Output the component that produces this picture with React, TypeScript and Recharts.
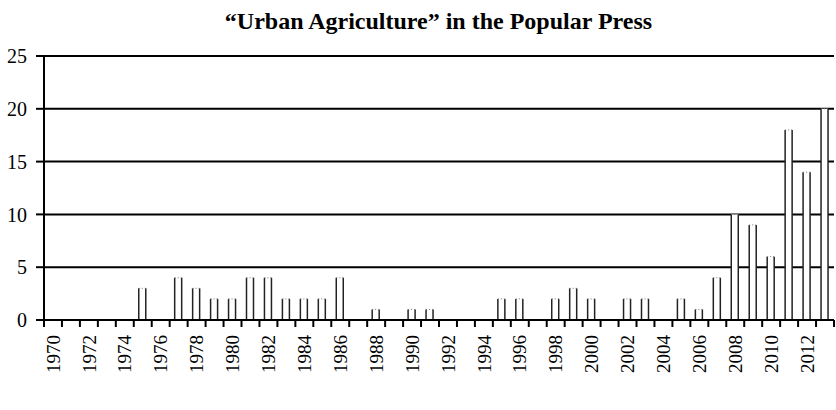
import { BarChart, Bar, XAxis, YAxis, CartesianGrid } from 'recharts';

const years = [
  1970, 1971, 1972, 1973, 1974, 1975, 1976, 1977, 1978, 1979, 1980,
  1981, 1982, 1983, 1984, 1985, 1986, 1987, 1988, 1989, 1990, 1991,
  1992, 1993, 1994, 1995, 1996, 1997, 1998, 1999, 2000, 2001, 2002,
  2003, 2004, 2005, 2006, 2007, 2008, 2009, 2010, 2011, 2012, 2013,
];

const articles = [
  0, 0, 0, 0, 0, 3, 0, 4, 3, 2, 2,
  4, 4, 2, 2, 2, 4, 0, 1, 0, 1, 1,
  0, 0, 0, 2, 2, 0, 2, 3, 2, 0, 2,
  2, 0, 2, 1, 4, 10, 9, 6, 18, 14, 20,
];

const yTicks = [0, 5, 10, 15, 20, 25];
const labelYears = years.filter((y) => y % 2 === 0);
const boundaries = [...years.map((y) => y - 0.5), 2013.5];

const data = years.map((year, i) => ({ year, count: articles[i] }));

const serif = '"Liberation Serif", "Times New Roman", serif';

const OutlinedBar = (props: any) => {
  const { x, y, width, height } = props;
  if (!height || height <= 0) return null;
  return (
    <g>
      <rect x={x} y={y} width={width} height={height} fill="#fff" />
      <line x1={x} x2={x} y1={y} y2={y + height} stroke="#222" strokeWidth={1.5} />
      <line x1={x + width} x2={x + width} y1={y} y2={y + height} stroke="#222" strokeWidth={1.5} />
      <line x1={x} x2={x + width} y1={y} y2={y} stroke="#777" strokeWidth={1} strokeDasharray="1 2" />
    </g>
  );
};

const XTick = (props: any) => {
  const { x, y, payload } = props;
  const v = payload.value;
  if (v % 1 !== 0) {
    return <line x1={x} x2={x} y1={y} y2={y + 7} stroke="#000" strokeWidth={2} />;
  }
  const ty = y + 15;
  return (
    <text
      x={x}
      y={ty}
      transform={`rotate(-90, ${x}, ${ty})`}
      textAnchor="end"
      dy="0.35em"
      style={{ fontFamily: serif, fontSize: 19 }}
      fill="#000"
    >
      {v}
    </text>
  );
};

export default function App() {
  return (
    <div style={{ position: 'absolute', left: 0, top: 0, width: 836, height: 410, background: '#fff' }}>
      <div
        style={{
          position: 'absolute',
          left: 43,
          top: 9,
          width: 791,
          textAlign: 'center',
          fontFamily: serif,
          fontWeight: 'bold',
          fontSize: 24,
          lineHeight: '24px',
          color: '#000',
        }}
      >
        “Urban Agriculture” in the Popular Press
      </div>
      <BarChart
        width={836}
        height={410}
        data={data}
        margin={{ top: 56, right: 2, bottom: 0, left: 0 }}
        style={{ fontFamily: serif }}
      >
        <CartesianGrid vertical={false} stroke="#000" strokeWidth={2} />
        <XAxis
          dataKey="year"
          type="number"
          domain={[1969.5, 2013.5]}
          ticks={[...boundaries, ...labelYears]}
          interval={0}
          tick={<XTick />}
          tickLine={false}
          tickSize={0}
          tickMargin={0}
          height={90}
          axisLine={{ stroke: '#000', strokeWidth: 2 }}
        />
        <YAxis
          domain={[0, 25]}
          ticks={yTicks}
          width={44}
          tickSize={8}
          tickMargin={9}
          axisLine={{ stroke: '#000', strokeWidth: 2 }}
          tickLine={{ stroke: '#000', strokeWidth: 2 }}
          tick={{ fontSize: 20, fill: '#000', style: { fontFamily: serif } }}
        />
        <Bar dataKey="count" barSize={7} shape={<OutlinedBar />} isAnimationActive={false} />
      </BarChart>
    </div>
  );
}
